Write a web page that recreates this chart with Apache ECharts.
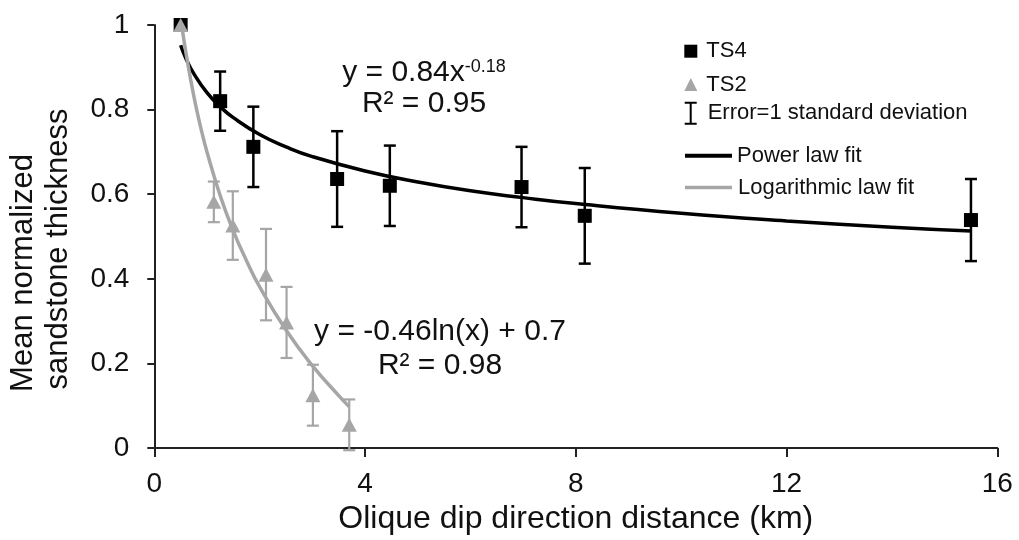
<!DOCTYPE html>
<html>
<head>
<meta charset="utf-8">
<script src="https://cdn.jsdelivr.net/npm/echarts@6/dist/echarts.min.js"></script>
<style>
  html, body { margin: 0; padding: 0; background: #fff; }
  #chart { width: 1019px; height: 540px; }
</style>
</head>
<body>
<div id="chart"></div>
<script>
// TS4 means and 1 std dev
var ts4X = [0.5, 1.25, 1.88, 3.47, 4.47, 6.97, 8.17, 15.5];
var ts4Y = [1.0, 0.82, 0.712, 0.636, 0.62, 0.617, 0.549, 0.539];
var ts4Err = [0, 0.07, 0.095, 0.113, 0.095, 0.095, 0.113, 0.097];

// TS2 means and 1 std dev
var ts2X = [0.5, 1.13, 1.49, 2.12, 2.51, 3.01, 3.7];
var ts2Y = [1.0, 0.582, 0.526, 0.41, 0.297, 0.125, 0.055];
var ts2Err = [0, 0.048, 0.081, 0.108, 0.084, 0.072, 0.06];

// fit curves
var powerX = [0.5, 0.6, 0.75, 1, 1.25, 1.5, 2, 2.5, 3, 4, 5, 6, 7, 8, 10, 12, 14, 15.5];
var powerY = [0.952, 0.921, 0.885, 0.84, 0.807, 0.781, 0.741, 0.712, 0.689, 0.655, 0.629, 0.608, 0.592, 0.578, 0.555, 0.537, 0.522, 0.513];
var logX = [0.52, 0.6, 0.75, 0.9, 1, 1.25, 1.5, 1.75, 2, 2.5, 3, 3.5, 3.7];
var logY = [1.0, 0.935, 0.832, 0.748, 0.7, 0.597, 0.513, 0.443, 0.381, 0.279, 0.195, 0.124, 0.098];

var xTicks = [0, 16, 4];   // min, max, interval
var yTicks = [0, 1, 0.2];

var FONT = "'Liberation Sans', Arial, sans-serif";
var GRAY = '#a6a6a6';

function pairs(xs, ys) {
  return xs.map(function (x, i) { return [x, ys[i]]; });
}
function errData(xs, ys, es) {
  var arr = [];
  xs.forEach(function (x, i) {
    if (es[i] > 0) arr.push([x, ys[i] - es[i], ys[i] + es[i]]);
  });
  return arr;
}
function errRender(color, width) {
  return function (params, api) {
    var lo = api.coord([api.value(0), api.value(1)]);
    var hi = api.coord([api.value(0), api.value(2)]);
    var half = 6;
    var st = { stroke: color, lineWidth: width };
    return {
      type: 'group',
      children: [
        { type: 'line', shape: { x1: lo[0], y1: lo[1], x2: hi[0], y2: hi[1] }, style: st },
        { type: 'line', shape: { x1: lo[0] - half, y1: lo[1], x2: lo[0] + half, y2: lo[1] }, style: st },
        { type: 'line', shape: { x1: hi[0] - half, y1: hi[1], x2: hi[0] + half, y2: hi[1] }, style: st }
      ]
    };
  };
}

var legendText = { color: '#111', fontSize: 22, fontFamily: FONT };
function oneLegend(name, icon, color, left, top, w, h, pad) {
  return {
    left: left, top: top, itemWidth: w, itemHeight: h,
    selectedMode: false,
    textStyle: Object.assign({ padding: [0, 0, 0, pad] }, legendText),
    data: [{ name: name, icon: icon, itemStyle: { color: color, borderWidth: 0 } }]
  };
}

var chart = echarts.init(document.getElementById('chart'));
var option = {
  animation: false,
  backgroundColor: '#fff',
  grid: { left: 154.3, right: 21.7, top: 25, bottom: 86.5 },
  legend: [
    oneLegend('TS4', 'rect', '#000', 679.3, 35.2, 13, 13, 4),
    oneLegend('TS2', 'triangle', GRAY, 679.3, 68.5, 13, 13, 4),
    oneLegend('Error=1 standard deviation', 'path://M0,0H12V2H7V21H12V23H0V21H5V2H0Z', '#000', 679.7, 96.8, 12, 23, 6),
    oneLegend('Power law fit', 'rect', '#000', 680, 139.7, 47, 4, 0),
    oneLegend('Logarithmic law fit', 'rect', GRAY, 680, 171.5, 47, 3.5, 1)
  ],
  xAxis: {
    type: 'value',
    min: xTicks[0], max: xTicks[1], interval: xTicks[2],
    name: 'Olique dip direction distance (km)',
    nameLocation: 'middle',
    nameGap: 54,
    nameTextStyle: { color: '#111', fontSize: 32, fontFamily: FONT },
    axisLine: { lineStyle: { color: '#222', width: 2 } },
    axisTick: { show: true, length: 9, lineStyle: { color: '#222', width: 2 } },
    axisLabel: { color: '#111', fontSize: 28, fontFamily: FONT, margin: 22 },
    splitLine: { show: false }
  },
  yAxis: {
    type: 'value',
    min: yTicks[0], max: yTicks[1], interval: yTicks[2],
    axisLine: { show: true, lineStyle: { color: '#222', width: 2 } },
    axisTick: { show: true, length: 7, lineStyle: { color: '#222', width: 2 } },
    axisLabel: { color: '#111', fontSize: 28, fontFamily: FONT, margin: 25 },
    splitLine: { show: false }
  },
  graphic: [
    { type: 'text', x: 23, y: 273, rotation: Math.PI / 2,
      style: { text: 'Mean normalized', fill: '#111', font: '31px ' + FONT, align: 'center', verticalAlign: 'middle' } },
    { type: 'text', x: 58, y: 249, rotation: Math.PI / 2,
      style: { text: 'sandstone thickness', fill: '#111', font: '31px ' + FONT, align: 'center', verticalAlign: 'middle' } },
    { type: 'text', x: 424, y: 73,
      style: {
        text: '{a|y = 0.84x}{b|-0.18}', align: 'center', verticalAlign: 'middle',
        rich: {
          a: { fontSize: 30, fontFamily: FONT, fill: '#111', color: '#111' },
          b: { fontSize: 18, fontFamily: FONT, fill: '#111', color: '#111', verticalAlign: 'top', padding: [0, 0, 10, 0] }
        }
      } },
    { type: 'text', x: 424, y: 104,
      style: { text: 'R² = 0.95', fill: '#111', font: '30px ' + FONT, align: 'center', verticalAlign: 'middle' } },
    { type: 'text', x: 440, y: 332,
      style: { text: 'y = -0.46ln(x) + 0.7', fill: '#111', font: '30px ' + FONT, align: 'center', verticalAlign: 'middle' } },
    { type: 'text', x: 440, y: 366,
      style: { text: 'R² = 0.98', fill: '#111', font: '30px ' + FONT, align: 'center', verticalAlign: 'middle' } }
  ],
  series: [
    {
      name: 'Power law fit', type: 'line', smooth: true, showSymbol: false, symbol: 'none',
      data: pairs(powerX, powerY),
      lineStyle: { color: '#000', width: 3.5 }, itemStyle: { color: '#000' }, z: 2
    },
    {
      name: 'Logarithmic law fit', type: 'line', smooth: true, showSymbol: false, symbol: 'none',
      data: pairs(logX, logY),
      lineStyle: { color: GRAY, width: 3.5 }, itemStyle: { color: GRAY }, z: 2
    },
    {
      name: 'Error=1 standard deviation', type: 'custom',
      renderItem: errRender('#000', 2.5),
      data: errData(ts4X, ts4Y, ts4Err),
      encode: { x: 0, y: [1, 2] }, itemStyle: { color: '#000' }, z: 3
    },
    {
      name: 'Error=1 standard deviation', type: 'custom',
      renderItem: errRender(GRAY, 2.2),
      data: errData(ts2X, ts2Y, ts2Err),
      encode: { x: 0, y: [1, 2] }, itemStyle: { color: GRAY }, z: 3
    },
    {
      name: 'TS4', type: 'scatter', symbol: 'rect', symbolSize: 14,
      data: pairs(ts4X, ts4Y), itemStyle: { color: '#000', opacity: 1 }, clip: false, z: 4
    },
    {
      name: 'TS2', type: 'scatter', symbol: 'triangle', symbolSize: [15, 14],
      data: pairs(ts2X, ts2Y), itemStyle: { color: GRAY, opacity: 1 }, clip: false, z: 5
    }
  ]
};
chart.setOption(option);
</script>
</body>
</html>
